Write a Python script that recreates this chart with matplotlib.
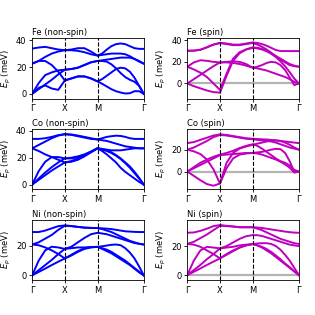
import numpy as np
import matplotlib
matplotlib.use("Agg")
import matplotlib.pyplot as plt

# k-path of the simple cubic cell: G-X, X-M, M-G
seg_len = [0.5, 0.5, np.sqrt(0.5)]
kpts = np.concatenate([np.linspace(0, 0.5, 6),
                       np.linspace(0.6, 1.0, 5),
                       1.0 + np.linspace(0.1, 1.0, 10) * seg_len[2]])
kticks = [0, 0.5, 1.0, 1.0 + seg_len[2]]
klabels = ['Γ', 'X', 'M', 'Γ']

# phonon branches (meV), 21 k-points each
fe_nonspin = [
    [33.7, 34.5, 35, 34, 33, 32.5, 33, 34, 34, 31.5, 28.5, 30, 33, 35.5, 37, 37.5, 37, 35.5, 34, 33.5, 33.5],
    [22.5, 24.5, 27.5, 30, 31.5, 32.5, 32.5, 32, 31, 29.5, 28.5, 29, 29.5, 30, 30, 30, 29.5, 28, 26, 24, 22.5],
    [22.5, 24.5, 24.5, 21.5, 16.5, 10, 11.5, 13, 13, 11.5, 9.3, 11, 13.5, 16, 18.5, 19.5, 19, 16.5, 12, 6, 0],
    [0, 4.5, 6.3, 4, 3, 10, 11.5, 13, 13, 11.5, 9.3, 7.5, 5.5, 3.5, 2, 1, 0.3, 0.5, 2, 2, 0],
    [0, 8, 14, 16, 17.5, 18, 18.5, 19.5, 21.5, 23.5, 24.5, 25, 25.5, 26, 26.5, 27, 27, 27, 26, 24.5, 22.5],
    [0, 3.5, 7, 10.5, 14.5, 18, 18.5, 19.5, 21.5, 23.5, 24.5, 24.5, 24, 22, 19, 15.5, 12.5, 10.5, 9, 6, 0],
]
fe_spin = [
    [30.3, 30.4, 31.2, 33.5, 36, 37.6, 37, 36, 36, 37, 38, 37.5, 36.5, 35, 33, 31, 30, 30, 30, 30, 30],
    [30.3, 30.4, 31.2, 33.5, 36, 37.4, 36.5, 35.5, 35.5, 36.5, 37.5, 36, 34, 31.5, 28.5, 25, 22, 19.5, 17, 16, 15.5],
    [15.5, 19.5, 21.5, 21, 20, 19.5, 20, 20.5, 20, 18, 14.6, 15.5, 17, 19, 20, 19.5, 17, 12.5, 5.5, -1.5, 0],
    [15.5, 13, 10, 6, 0, -6, 9, 23, 29, 31.5, 33.5, 33, 32, 30, 27.5, 24.5, 20.5, 16, 10.5, 4.5, 0],
    [0, -2.5, -4.5, -6.5, -8, -8.5, 7, 21, 28, 31.5, 33, 32.5, 31.5, 30, 28, 25.5, 23, 20.5, 18, 16.5, 15.5],
    [0, 4, 8, 12, 16, 19.5, 19.5, 19, 18, 16.5, 14.6, 14, 13, 12, 10.5, 9, 7.5, 6, 4, 1.5, 0],
]
co_nonspin = [
    [34, 34, 34.5, 35.5, 36.8, 37.5, 37.3, 36.5, 35.5, 34.5, 33.6, 34.5, 35.5, 36, 36.4, 36.2, 35.5, 34.5, 34, 34, 34],
    [27, 29.5, 32, 34.5, 36.5, 37.5, 37, 36, 35, 34, 33.6, 33, 32.5, 31.5, 30.5, 29.5, 28.5, 28, 27.5, 27, 27],
    [27, 25, 22.5, 20.5, 18.5, 16.5, 17.5, 19.5, 22, 24.5, 27, 26.5, 26, 25.5, 25.5, 25.5, 26, 26.5, 27, 27, 27],
    [0, 10, 17, 20.5, 20.5, 19.5, 20, 21, 22.5, 24.5, 27, 26.5, 25.5, 24, 22, 19.5, 16.5, 13.5, 9.5, 5, 0],
    [0, 3.5, 7, 10.5, 13.5, 16.5, 17, 18.5, 21, 24, 27, 26, 25, 23.5, 21.5, 19, 16, 12.5, 8.5, 4.5, 0],
    [0, 4.5, 9, 13, 16.5, 19.5, 19.5, 20.5, 22, 24.5, 27, 25, 22.5, 19.5, 16.5, 12.5, 9.5, 7, 4.5, 2, 0],
]
co_spin = [
    [26, 27, 29, 31, 33, 34, 33.5, 32.5, 31.5, 30.5, 30, 29.8, 29.5, 29.3, 29, 28.5, 28, 27.5, 27, 26.5, 26],
    [20, 22, 25, 28, 31.5, 33.5, 33, 32, 31, 30, 29.5, 29, 28.5, 28, 27.5, 26.5, 25, 23.5, 22, 21, 20],
    [20, 18.5, 16, 11, 2, -11, 8, 17, 21, 23, 24.5, 25.5, 26.5, 27.5, 28.3, 28.5, 28, 26.5, 24.5, 22, 20],
    [0, -4, -8, -11.5, -13, -11, 3, 12, 15.5, 16.5, 17, 16.5, 15.5, 14, 12.5, 11, 9, 6.5, 3.5, -1, 0],
    [0, 3, 6, 9, 12, 15, 15.5, 16, 16.5, 17, 17, 17.5, 18, 19, 20, 20.8, 20.5, 17, 9.5, -0.5, 0],
    [0, 4, 8, 11, 13.5, 15.5, 17, 19, 21.5, 23.5, 25, 23.5, 21, 18, 15, 12, 9.5, 8, 5.5, 1.5, 0],
]
ni_nonspin = [
    [29.5, 29.5, 30.5, 32, 33.5, 34, 33.6, 33, 32.5, 32.3, 32.2, 32, 31.8, 31.5, 31, 30.5, 30, 29.8, 29.6, 29.5, 29.5],
    [21, 22.5, 25, 27.5, 31, 33.8, 33.5, 33, 32.5, 32.3, 32.2, 31.5, 30.5, 29.5, 28, 26.5, 25, 23.5, 22.5, 21.5, 21],
    [21, 20.5, 19, 17, 14.5, 11.5, 14, 16.5, 18.5, 19.3, 19.4, 19.8, 20.3, 20.8, 21, 20.5, 18.5, 15.5, 11.5, 6, 0],
    [0, 10, 17, 19.5, 19, 18, 19.5, 22.5, 25.5, 28, 29, 28.5, 28, 27, 26, 25, 24, 23, 22, 21.5, 21],
    [0, 3.5, 7, 10.5, 14.5, 18, 18.5, 19, 19, 19.2, 19.4, 18, 16.5, 15, 13, 11, 9, 7, 4.5, 2, 0],
    [0, 2.3, 4.6, 7, 9.3, 11.5, 13.5, 16, 18, 19, 19.4, 18.5, 17.5, 16, 14, 12, 10, 7.5, 5, 2.5, 0],
]
ni_spin = [
    [29.2, 29.4, 30.5, 32, 33.8, 34.5, 34, 33.5, 33, 33, 33, 32.8, 32.5, 32, 31.5, 31, 30.5, 30, 29.6, 29.3, 29.2],
    [21.5, 23, 25.5, 28, 31, 34, 33.8, 33.5, 33, 33, 33, 32, 31, 29.5, 28, 26.5, 25, 24, 23, 22, 21.5],
    [21.5, 21, 19.5, 17, 14.5, 11.5, 14.5, 17, 19, 20.5, 21.4, 21.8, 22, 22, 21.5, 20, 17.5, 14, 10, 5, 0],
    [0, 10, 17, 19.5, 19, 18.4, 20, 22.5, 25, 26.8, 27.6, 27.5, 27, 26, 25, 24, 23, 22, 21, 20.5, 20],
    [0, 3.5, 7, 11, 14.5, 18.4, 19, 19.5, 20.5, 21, 21.4, 20.5, 19, 17, 15, 12.5, 10, 7.5, 5, 2.5, 0],
    [0, 2.3, 4.6, 7, 9.3, 11.5, 14, 16.5, 19, 20.5, 21.4, 20.5, 19.5, 18, 16, 13.5, 11, 8, 5.5, 2.5, 0],
]

titles = ['Fe (non-spin)', 'Fe (spin)', 'Co (non-spin)', 'Co (spin)', 'Ni (non-spin)', 'Ni (spin)']
bands = [fe_nonspin, fe_spin, co_nonspin, co_spin, ni_nonspin, ni_spin]
ylims = [(-3.5, 41.5), (-14, 42), (-3.5, 41.5), (-16.3, 39.1), (-3.2, 38), (-3.4, 38.3)]

fig, axs = plt.subplots(3, 2, figsize=(3.15, 3.15), dpi=100)
fig.subplots_adjust(left=0.102, right=0.949, top=0.879, bottom=0.111, hspace=0.5, wspace=0.39)

for i, ax in enumerate(axs.flat):
    spin = (i % 2 == 1)
    col = 'm' if spin else 'b'
    if spin:
        ax.axhline(0, color='0.7', lw=1.6, zorder=0)
    for br in bands[i]:
        ax.plot(kpts, br, color=col, lw=1.4)
    for kv in kticks[1:3]:
        ax.axvline(kv, color='k', ls='--', lw=0.8)
    ax.set_xlim(0, kticks[-1])
    ax.set_ylim(*ylims[i])
    ax.set_xticks(kticks)
    ax.set_xticklabels(klabels)
    ax.set_yticks([t for t in [0, 20, 40] if t < ylims[i][1]])
    ax.tick_params(labelsize=6, length=2.5, width=0.6, pad=1.5)
    ax.set_title(titles[i], loc='left', fontsize=6, pad=2)
    ax.set_ylabel('$E_p$ (meV)', fontsize=6, labelpad=2)
    for s in ax.spines.values():
        s.set_linewidth(0.6)

fig.savefig('out.png', dpi=100)
